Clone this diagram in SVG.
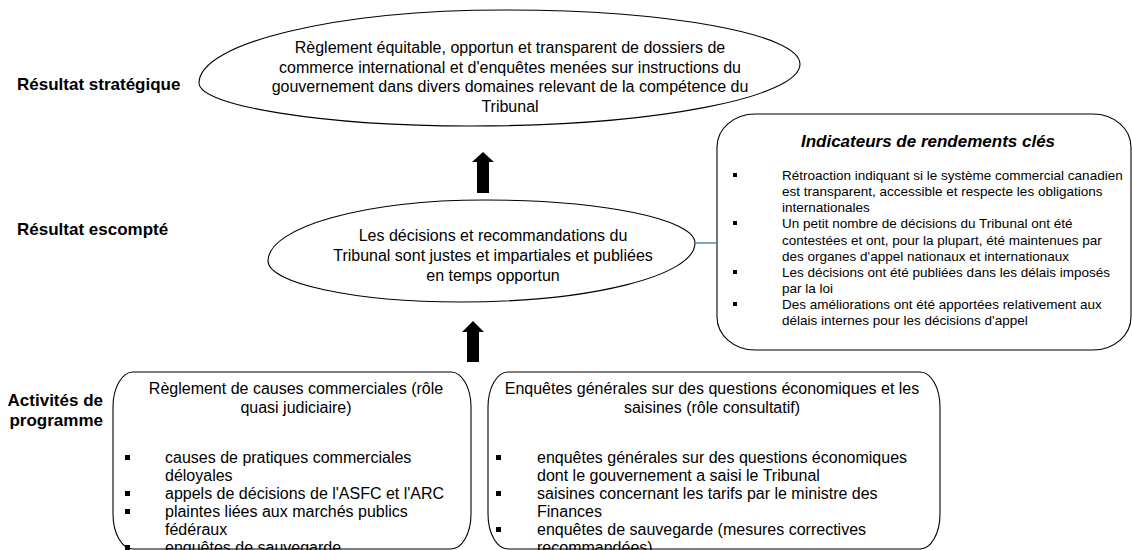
<svg xmlns="http://www.w3.org/2000/svg" width="1132" height="550" viewBox="0 0 1132 550">
<style>
.lbl{font-family:"Liberation Sans",Arial,sans-serif;font-weight:bold;font-size:17px;fill:#000}
.t16{font-family:"Liberation Sans",Arial,sans-serif;font-size:16px;fill:#000}
.t13{font-family:"Liberation Sans",Arial,sans-serif;font-size:13.5px;fill:#000}
.ttl{font-family:"Liberation Sans",Arial,sans-serif;font-size:17px;font-weight:bold;font-style:italic;fill:#000}
.shape{fill:#fff;stroke:#000;stroke-width:1.1}
.blt{fill:#000}
.arrow{fill:#000}
.link{stroke:#5b84b1;stroke-width:1.5;fill:none}
</style>
<rect width="1132" height="550" fill="#fff"/>

<g id="label-strategique"><text class="lbl" x="17" y="90">Résultat stratégique</text></g>
<g id="label-escompte"><text class="lbl" x="17" y="235">Résultat escompté</text></g>
<g id="label-activites">
<text class="lbl" x="103" y="406" text-anchor="end">Activités de</text>
<text class="lbl" x="103" y="426" text-anchor="end">programme</text>
</g>

<g id="node-strategique">
<path class="shape" d="M199,83 C199,43 336,10 505,10 C668,10 800,34 800,64 C800,97 657,126 470,126 C325,126 199,106 199,83 Z"/>
<g class="t16" text-anchor="middle">
<text x="510" y="53">Règlement équitable, opportun et transparent de dossiers de</text>
<text x="510" y="72.5">commerce international et d'enquêtes menées sur instructions du</text>
<text x="510" y="92">gouvernement dans divers domaines relevant de la compétence du</text>
<text x="510" y="111.5">Tribunal</text>
</g>
</g>

<g id="node-escompte">
<path class="shape" d="M268,261 C268,227 365,200 485,200 C601,200 695,219 695,243 C695,276 590,302 460,302 C354,302 268,283 268,261 Z"/>
<g class="t16" text-anchor="middle">
<text x="493" y="241">Les décisions et recommandations du</text>
<text x="493" y="261">Tribunal sont justes et impartiales et publiées</text>
<text x="493" y="281">en temps opportun</text>
</g>
</g>

<g id="node-indicateurs">
<rect class="shape" x="717" y="114" width="414" height="236" rx="38" ry="33"/>
<text class="ttl" x="928" y="147" text-anchor="middle">Indicateurs de rendements clés</text>
<rect class="blt" x="733" y="173" width="4" height="4"/>
<rect class="blt" x="733" y="221" width="4" height="4"/>
<rect class="blt" x="733" y="270" width="4" height="4"/>
<rect class="blt" x="733" y="302" width="4" height="4"/>
<g class="t13">
<text x="782" y="180">Rétroaction indiquant si le système commercial canadien</text>
<text x="782" y="196">est transparent, accessible et respecte les obligations</text>
<text x="782" y="212">internationales</text>
<text x="782" y="228">Un petit nombre de décisions du Tribunal ont été</text>
<text x="782" y="244.5">contestées et ont, pour la plupart, été maintenues par</text>
<text x="782" y="261">des organes d'appel nationaux et internationaux</text>
<text x="782" y="277">Les décisions ont été publiées dans les délais imposés</text>
<text x="782" y="293">par la loi</text>
<text x="782" y="309">Des améliorations ont été apportées relativement aux</text>
<text x="782" y="325">délais internes pour les décisions d'appel</text>
</g>
</g>

<g id="node-reglement">
<rect class="shape" x="113" y="372" width="358" height="177" rx="20" ry="35"/>
<g class="t16" text-anchor="middle">
<text x="296" y="394">Règlement de causes commerciales (rôle</text>
<text x="296" y="413">quasi judiciaire)</text>
</g>
<rect class="blt" x="125" y="455" width="5" height="5"/>
<rect class="blt" x="125" y="491" width="5" height="5"/>
<rect class="blt" x="125" y="509" width="5" height="5"/>
<rect class="blt" x="125" y="545" width="5" height="5"/>
<g class="t16">
<text x="165" y="463">causes de pratiques commerciales</text>
<text x="165" y="481">déloyales</text>
<text x="165" y="499">appels de décisions de l'ASFC et l'ARC</text>
<text x="165" y="517">plaintes liées aux marchés publics</text>
<text x="165" y="535">fédéraux</text>
<text x="165" y="553">enquêtes de sauvegarde</text>
</g>
</g>

<g id="node-enquetes">
<rect class="shape" x="488" y="372" width="452" height="177" rx="20" ry="35"/>
<g class="t16" text-anchor="middle">
<text x="712" y="394">Enquêtes générales sur des questions économiques et les</text>
<text x="712" y="413">saisines (rôle consultatif)</text>
</g>
<rect class="blt" x="496" y="455" width="5" height="5"/>
<rect class="blt" x="496" y="491" width="5" height="5"/>
<rect class="blt" x="496" y="527" width="5" height="5"/>
<g class="t16">
<text x="537" y="463">enquêtes générales sur des questions économiques</text>
<text x="537" y="481">dont le gouvernement a saisi le Tribunal</text>
<text x="537" y="499">saisines concernant les tarifs par le ministre des</text>
<text x="537" y="517">Finances</text>
<text x="537" y="535">enquêtes de sauvegarde (mesures correctives</text>
<text x="537" y="553">recommandées)</text>
</g>
</g>

<g id="connectors">
<polygon class="arrow" points="483,152 494,162 489,162 489,193 477,193 477,162 472,162"/>
<polygon class="arrow" points="473,321 484,332 479,332 479,362 467,362 467,332 462,332"/>
<line class="link" x1="695" y1="243" x2="717" y2="243"/>
</g>
</svg>
